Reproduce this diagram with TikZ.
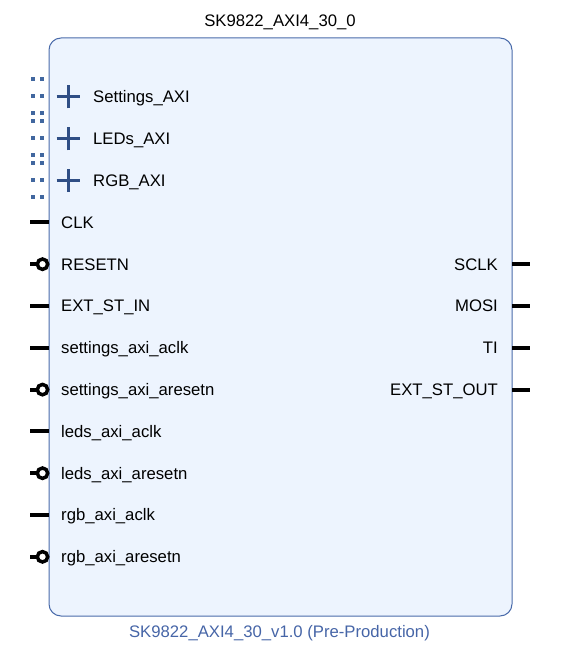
\documentclass[tikz,border=0pt]{standalone}
\usepackage{fontspec}
\setmainfont{Liberation Sans}
\definecolor{boxfill}{HTML}{EDF4FE}
\definecolor{boxline}{HTML}{4A6BAA}
\definecolor{ifblue}{HTML}{2F4E85}
\definecolor{dotblue}{HTML}{41679F}
\definecolor{lblblue}{HTML}{4665A7}
\begin{document}
\begin{tikzpicture}[x=1pt,y=-1pt,
  lbl/.style={font=\fontsize{16.7}{18}\selectfont, inner sep=0pt},
  pinline/.style={line width=4pt, black},
  negcirc/.style={line width=3.5pt, black},
  plusmark/.style={line width=3pt, ifblue},
  dotsq/.style={fill=dotblue},
  ipbox/.style={draw=boxline, fill=boxfill, line width=1pt, rounded corners=12pt, rectangle, inner sep=0pt, minimum width=463pt, minimum height=578pt}]
\useasboundingbox (0,0) rectangle (568,660);
\node[ipbox] (ip) at (280.5,327) {};
\node[lbl, anchor=base] (title) at (280,27) {SK9822\_AXI4\_30\_0};
\node[lbl, anchor=base, text=lblblue] (ver) at (279.5,637) {SK9822\_AXI4\_30\_v1.0 (Pre-Production)};
% interfaces
\foreach \k/\name/\txt in {0/ifs/Settings\_AXI, 1/ifl/LEDs\_AXI, 2/ifr/RGB\_AXI}{
  \pgfmathsetmacro{\yy}{97+41.8*\k}
  \foreach \dy in {-17.5,-0.5,16.5}{
    \fill[dotsq] (31,\yy+\dy-2) rectangle (35,\yy+\dy+2);
    \fill[dotsq] (40,\yy+\dy-2) rectangle (44,\yy+\dy+2);
  }
  \coordinate (\name-c) at (68,\yy);
  \draw[plusmark] ([xshift=-11.5pt]\name-c) -- ([xshift=11.5pt]\name-c);
  \draw[plusmark] ([yshift=-11.5pt]\name-c) -- ([yshift=11.5pt]\name-c);
  \node[lbl, anchor=base west] (\name-t) at (93,\yy+5.9) {\txt};
}
% left pins
\foreach \k/\name/\txt/\neg in {3/clk/CLK/0, 4/rst/RESETN/1, 5/extin/EXT\_ST\_IN/0, 6/sclk/settings\_axi\_aclk/0, 7/srst/settings\_axi\_aresetn/1, 8/lclk/leds\_axi\_aclk/0, 9/lrst/leds\_axi\_aresetn/1, 10/rclk/rgb\_axi\_aclk/0, 11/rrst/rgb\_axi\_aresetn/1}{
  \pgfmathsetmacro{\yy}{97+41.8*\k}
  \coordinate (\name-o) at (30,\yy);
  \coordinate (\name-i) at (49,\yy);
  \ifnum\neg=1
    \coordinate (\name-c) at (42.5,\yy);
    \draw[pinline] (\name-o) -- ([xshift=-5pt]\name-c);
    \draw[negcirc] (\name-c) circle (5.2pt);
  \else
    \draw[pinline] (\name-o) -- (\name-i);
  \fi
  \node[lbl, anchor=base west] (\name-t) at (61,\yy+5.9) {\txt};
}
% right pins
\foreach \k/\name/\txt in {4/osclk/SCLK, 5/omosi/MOSI, 6/oti/TI, 7/oext/EXT\_ST\_OUT}{
  \pgfmathsetmacro{\yy}{97+41.8*\k}
  \coordinate (\name-i) at (512,\yy);
  \coordinate (\name-o) at (530,\yy);
  \draw[pinline] (\name-i) -- (\name-o);
  \node[lbl, anchor=base east] (\name-t) at (498,\yy+5.9) {\txt};
}
\end{tikzpicture}
\end{document}
